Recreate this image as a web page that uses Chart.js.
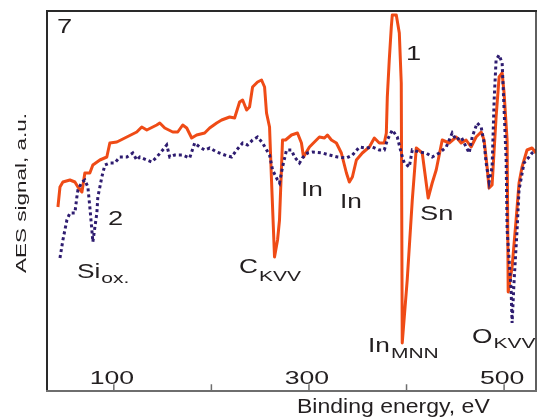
<!DOCTYPE html>
<html>
<head>
<meta charset="utf-8">
<script src="https://cdn.jsdelivr.net/npm/chart.js@4/dist/chart.umd.min.js"></script>
<style>
  body { margin: 0; background: #fff; }
  #caja { width: 537px; height: 417px; }
</style>
</head>
<body>
<div id="caja"><canvas id="grafica"></canvas></div>
<script>
// curva 1 (naranja, línea continua)
var energia1 = [42.7, 44.8, 47.8, 55.0, 60.1, 63.2, 67.3, 70.3, 75.4, 78.5, 85.7, 92.8, 95.9, 103.1, 113.3, 123.5, 128.6, 133.8, 144.0, 147.1,
    152.2, 160.4, 165.5, 170.6, 174.7, 179.8, 184.9, 193.1, 198.2, 205.4, 210.5, 218.7, 223.8, 228.9, 232.0, 236.1, 239.1, 242.2, 247.3, 251.4,
    254.5, 256.5, 259.6, 261.6, 264.7, 267.8, 269.8, 272.9, 276.0, 282.1, 288.2, 292.3, 294.4, 300.5, 310.7, 315.9, 318.9, 323.0, 328.1, 333.2,
    338.4, 341.4, 344.5, 348.6, 354.7, 361.9, 367.0, 372.1, 377.2, 379.3, 380.3, 382.3, 384.4, 385.4, 389.5, 392.6, 394.6, 395.6, 400.7, 405.9,
    410.0, 416.1, 422.2, 426.3, 430.4, 436.6, 443.7, 450.9, 456.0, 461.1, 466.2, 471.3, 476.5, 479.5, 482.6, 484.6, 487.7, 491.8, 494.9, 498.0,
    500.0, 503.1, 504.2, 508.2, 512.3, 515.3, 518.4, 523.5, 528.6, 532.7];
var senal1 = [18.4, 20.4, 20.9, 21.1, 20.9, 20.4, 19.9, 21.8, 21.8, 22.6, 23.1, 23.4, 24.8, 24.9, 25.4, 25.9, 26.4, 26.1, 26.6, 26.8,
    26.3, 25.9, 25.9, 26.6, 26.3, 25.3, 25.6, 25.8, 26.3, 26.8, 27.1, 27.4, 27.3, 28.9, 29.1, 28.1, 28.4, 30.4, 30.9, 31.1,
    30.4, 27.8, 26.4, 21.1, 13.4, 15.1, 17.1, 25.1, 25.1, 25.6, 25.8, 24.8, 23.4, 24.4, 25.4, 25.3, 25.6, 25.1, 24.8, 23.8,
    21.8, 20.9, 21.4, 23.1, 23.8, 24.4, 25.3, 24.8, 24.8, 25.8, 29.4, 33.1, 36.4, 37.6, 37.6, 35.8, 30.8, 4.8, 11.1, 19.1,
    24.3, 23.8, 19.3, 20.8, 22.1, 25.1, 24.8, 25.4, 24.8, 25.1, 24.4, 25.4, 25.9, 25.1, 22.4, 20.3, 20.6, 27.4, 31.4, 31.8,
    29.8, 25.1, 9.9, 12.4, 17.1, 20.8, 22.4, 24.1, 24.3, 23.8];

// curva 2 (azul, punteada)
var energia2 = [44.8, 47.8, 51.9, 55.0, 60.1, 62.1, 63.2, 67.3, 70.3, 73.4, 75.4, 77.5, 78.5, 82.6, 83.6, 85.7, 87.7, 90.8, 95.9, 101.0,
    106.1, 113.3, 119.4, 123.5, 126.6, 133.8, 138.9, 144.0, 150.1, 154.2, 157.3, 162.4, 170.6, 177.7, 182.9, 188.0, 193.1, 198.2, 205.4, 213.6,
    220.7, 225.8, 232.0, 237.1, 242.2, 247.3, 252.4, 259.6, 262.7, 267.8, 269.8, 272.9, 277.0, 282.1, 285.2, 290.3, 293.3, 298.5, 303.6, 313.8,
    321.0, 329.2, 338.4, 344.5, 351.7, 358.8, 365.0, 372.1, 377.2, 380.3, 385.4, 390.5, 394.6, 397.7, 402.8, 405.9, 413.0, 420.2, 426.3, 433.5,
    440.7, 446.8, 450.9, 456.0, 461.1, 464.2, 467.3, 472.4, 476.5, 479.5, 481.6, 484.6, 487.7, 489.8, 491.8, 494.9, 498.0, 500.0, 502.1, 503.1,
    507.2, 508.2, 510.3, 513.3, 515.3, 520.4, 525.5, 528.6, 532.7];
var senal2 = [13.3, 15.1, 17.1, 17.8, 17.8, 19.4, 20.1, 20.9, 21.1, 20.4, 18.4, 16.1, 14.9, 17.8, 19.4, 20.4, 21.4, 22.6, 22.8, 22.8,
    23.4, 23.4, 23.8, 23.1, 23.4, 23.1, 22.9, 23.4, 24.1, 24.6, 23.4, 23.6, 23.6, 23.3, 24.8, 24.4, 24.1, 24.3, 23.9, 23.6,
    23.4, 24.1, 24.8, 24.6, 25.1, 25.4, 24.8, 23.6, 22.1, 21.1, 20.8, 22.4, 24.1, 24.1, 23.4, 22.8, 23.3, 23.8, 23.9, 23.8,
    23.6, 23.4, 23.3, 23.6, 24.4, 24.3, 24.4, 24.1, 24.1, 25.1, 26.1, 25.4, 23.8, 22.8, 22.4, 24.1, 23.9, 23.8, 23.4, 23.8,
    24.4, 25.8, 25.1, 25.4, 24.4, 23.8, 25.4, 26.8, 26.4, 24.8, 22.8, 20.9, 22.4, 29.1, 33.1, 33.6, 32.8, 28.1, 23.1, 16.1,
    10.1, 6.8, 11.1, 16.1, 20.1, 22.8, 23.4, 23.8, 24.1];

var marcas = [100, 200, 300, 400, 500];
var etiquetas = ['100', '', '300', '', '500'];

var naranja = '#ef4b16';
var azul = '#2e1c70';
var tinta = '#231f20';

function puntos(xs, ys) {
    var lista = [];
    for (var i = 0; i < xs.length; i++) {
        lista.push({x: xs[i], y: ys[i]});
    }
    return lista;
}

// texto ensanchado (la fuente del original es mas ancha que Arial)
function texto(ctx, str, x, y, size, sx, align) {
    ctx.save();
    ctx.font = size + 'px "Liberation Sans", Arial, sans-serif';
    ctx.fillStyle = tinta;
    ctx.textAlign = align || 'left';
    ctx.textBaseline = 'alphabetic';
    ctx.translate(x, y);
    ctx.scale(sx, 1);
    ctx.fillText(str, 0, 0);
    var w = ctx.measureText(str).width * sx;
    ctx.restore();
    return w;
}

function conIndice(ctx, base, sub, x, y, dy) {
    var w = texto(ctx, base, x, y, 21, 1.25);
    texto(ctx, sub, x + w + 1, y + dy, 15, 1.4);
}

var marco = {
    id: 'marco',
    afterDraw: function(chart) {
        var ctx = chart.ctx;
        var a = chart.chartArea;
        var ejeX = chart.scales.x;

        ctx.save();
        ctx.lineCap = 'square';
        ctx.strokeStyle = '#2a2a2a';
        ctx.lineWidth = 2;
        ctx.beginPath();
        ctx.moveTo(a.left, a.bottom);
        ctx.lineTo(a.left, a.top);
        ctx.lineTo(a.right, a.top);
        ctx.stroke();
        ctx.lineWidth = 1.5;
        ctx.beginPath();
        ctx.moveTo(a.right, a.top);
        ctx.lineTo(a.right, a.bottom);
        ctx.stroke();
        ctx.strokeStyle = '#6e6e6e';
        ctx.lineWidth = 2;
        ctx.beginPath();
        ctx.moveTo(a.left, a.bottom);
        ctx.lineTo(a.right, a.bottom);
        ctx.stroke();

        ctx.lineWidth = 1.5;
        for (var i = 0; i < marcas.length; i++) {
            var px = ejeX.getPixelForValue(marcas[i]);
            ctx.beginPath();
            ctx.moveTo(px, a.bottom);
            ctx.lineTo(px, a.bottom - 6);
            ctx.stroke();
            if (etiquetas[i] != '') {
                texto(ctx, etiquetas[i], px - 2, a.bottom - 7, 19, 1.4, 'center');
            }
        }
        ctx.restore();

        // titulos de los ejes
        texto(ctx, 'Binding energy, eV', 297, 413, 19.5, 1.18);
        ctx.save();
        ctx.translate(25.5, 193);
        ctx.rotate(-Math.PI / 2);
        texto(ctx, 'AES signal, a.u.', 0, 0, 15, 1.5, 'center');
        ctx.restore();

        // rotulos de los picos
        texto(ctx, '7', 57, 33, 21, 1.3);
        texto(ctx, '1', 406, 60, 21, 1.3);
        texto(ctx, '2', 108, 225, 21, 1.3);
        conIndice(ctx, 'Si', 'ox.', 77, 278, 5);
        conIndice(ctx, 'C', 'KVV', 239, 273, 8);
        texto(ctx, 'In', 301, 196, 21, 1.25);
        texto(ctx, 'In', 340, 208, 21, 1.25);
        texto(ctx, 'Sn', 420, 220, 21, 1.3);
        conIndice(ctx, 'In', 'MNN', 368, 352, 6);
        conIndice(ctx, 'O', 'KVV', 472, 343, 5);
    }
};

var ctx = document.getElementById('grafica');
var grafica = new Chart(ctx, {
    type: 'line',
    data: {
        datasets: [
            {
                label: '2',
                data: puntos(energia2, senal2),
                borderColor: azul,
                borderWidth: 3,
                borderDash: [3, 3],
                borderCapStyle: 'butt',
                fill: false,
                pointRadius: 0,
                tension: 0
            }, {
                label: '1',
                data: puntos(energia1, senal1),
                borderColor: naranja,
                borderWidth: 3,
                borderJoinStyle: 'round',
                fill: false,
                pointRadius: 0,
                tension: 0
            }
        ]
    },
    options: {
        responsive: true,
        maintainAspectRatio: false,
        animation: false,
        layout: {
            padding: {left: 47, right: 1, top: 11, bottom: 26}
        },
        plugins: {
            legend: {display: false},
            tooltip: {enabled: false}
        },
        scales: {
            x: {
                type: 'linear',
                min: 31.5,
                max: 532.7,
                display: false
            },
            y: {
                min: 0,
                max: 38,
                display: false
            }
        }
    },
    plugins: [marco]
});
</script>
</body>
</html>
